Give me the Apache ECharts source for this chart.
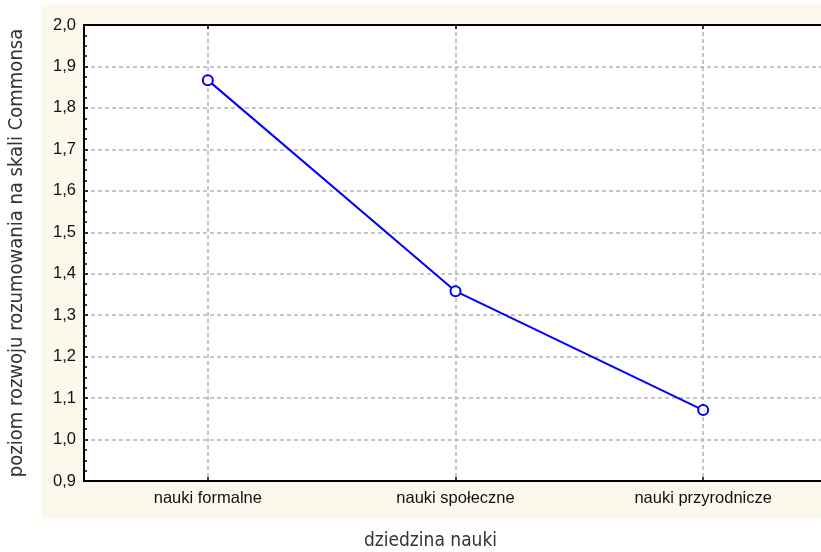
<!DOCTYPE html>
<html>
<head>
<meta charset="utf-8">
<script src="https://cdn.jsdelivr.net/npm/echarts@6/dist/echarts.min.js"></script>
<style>
html,body{margin:0;padding:0;background:#ffffff;}
#chart{width:821px;height:552px;}
</style>
</head>
<body>
<div id="chart"></div>
<script>
const categories = ['nauki formalne', 'nauki społeczne', 'nauki przyrodnicze'];
const values = [1.867, 1.358, 1.071];
const yMin = 0.9, yMax = 2.0, yStep = 0.1;
const xTitle = 'dziedzina nauki';
const yTitle = 'poziom rozwoju rozumowania na skali Commonsa';

const chart = echarts.init(document.getElementById('chart'), null, {renderer: 'canvas'});
const titleFont = '"Liberation Sans Narrow", "DejaVu Sans Condensed", sans-serif';
const dash = {color: '#b4b4b4', width: 1.5, type: [4, 3]};

chart.setOption({
  animation: false,
  backgroundColor: '#ffffff',
  graphic: [{
    type: 'rect', z: -10, silent: true,
    shape: {x: 41, y: 4, width: 790, height: 515},
    style: {fill: '#fdf8ec'}
  }],
  grid: {
    left: 84, top: 25, width: 743, height: 456,
    outerBoundsMode: 'none',
    containLabel: false,
    show: true, backgroundColor: '#ffffff', borderWidth: 0
  },
  xAxis: [{
    type: 'category',
    data: categories,
    boundaryGap: true,
    position: 'bottom',
    name: xTitle,
    nameLocation: 'middle',
    nameGap: 51,
    nameTextStyle: {fontFamily: titleFont, fontSize: 19, color: '#333', padding: [0, 50, 0, 0]},
    axisLine: {lineStyle: {color: '#000', width: 2}},
    axisTick: {show: true, inside: true, alignWithLabel: true, length: 4, lineStyle: {color: '#000', width: 1.5}},
    axisLabel: {fontFamily: 'Liberation Sans, Arial, sans-serif', fontSize: 16.5, color: '#111', margin: 9},
    splitLine: {show: true, alignWithLabel: true, lineStyle: dash}
  }, {
    type: 'category',
    data: categories,
    boundaryGap: true,
    position: 'top',
    axisLine: {lineStyle: {color: '#000', width: 2}},
    axisTick: {show: true, inside: true, alignWithLabel: true, length: 4, lineStyle: {color: '#000', width: 1.5}},
    axisLabel: {show: false},
    splitLine: {show: false}
  }],
  yAxis: {
    type: 'value',
    min: yMin, max: yMax, interval: yStep,
    name: yTitle,
    nameLocation: 'middle',
    nameGap: 57,
    nameRotate: 90,
    nameTextStyle: {fontFamily: titleFont, fontSize: 20, color: '#333'},
    axisLine: {show: true, lineStyle: {color: '#000', width: 2}},
    axisTick: {show: true, inside: true, length: 4, lineStyle: {color: '#000', width: 1.5}},
    minorTick: {show: true, splitNumber: 4, length: 3, lineStyle: {color: '#000', width: 1.5}},
    axisLabel: {
      fontFamily: 'Liberation Sans, Arial, sans-serif', fontSize: 16.5, color: '#111', margin: 8,
      formatter: v => v.toFixed(1).replace('.', ',')
    },
    splitLine: {show: true, lineStyle: dash}
  },
  series: [{
    type: 'line',
    data: values,
    xAxisIndex: 0,
    lineStyle: {color: '#0000ff', width: 2},
    symbol: 'circle',
    symbolSize: 10,
    itemStyle: {color: '#ffffff', borderColor: '#0000ff', borderWidth: 2},
    z: 5
  }]
});
</script>
</body>
</html>
